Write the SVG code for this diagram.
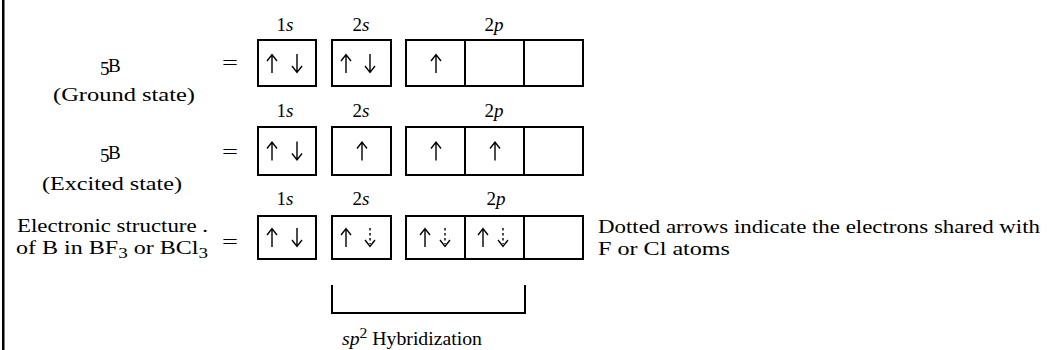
<svg xmlns="http://www.w3.org/2000/svg" xmlns:xlink="http://www.w3.org/1999/xlink" width="1047" height="350" viewBox="0 0 1047 350">
<style>
text{font-family:"Liberation Serif","Times New Roman",serif;fill:#000;font-size:19px}
.lbl{font-size:19px}
.it{font-style:italic}
.box{fill:none;stroke:#000;stroke-width:2}
.arr{fill:none;stroke:#000;stroke-width:1.4}
.dot{fill:none;stroke:#000;stroke-width:1.4;stroke-dasharray:2.5 2.5}
</style>
<defs>
<g id="up"><path class="arr" d="M0,19 V0.8 M-5,7 L0,0.6 L5,7"/></g>
<g id="dn"><path class="arr" d="M0,0 V18.2 M-5,12 L0,18.4 L5,12"/></g>
<g id="dd"><path class="dot" d="M0,0 V16"/><path class="arr" d="M-5,12 L0,18.4 L5,12"/></g>
</defs>
<rect x="2" y="0" width="2.5" height="350" fill="#000"/>

<g id="row1">
<text x="100" y="75" font-size="15">5</text><text x="108" y="72">B</text>
<text x="53" y="101" textLength="142" lengthAdjust="spacingAndGlyphs">(Ground state)</text>
<text x="222" y="69" textLength="16" lengthAdjust="spacingAndGlyphs">=</text>
<text class="lbl" x="285" y="31" text-anchor="middle">1<tspan class="it">s</tspan></text>
<text class="lbl" x="361" y="31" text-anchor="middle">2<tspan class="it">s</tspan></text>
<text class="lbl" x="494" y="31" text-anchor="middle">2<tspan class="it">p</tspan></text>
<rect class="box" x="258" y="40" width="58" height="46"/>
<rect class="box" x="332" y="40" width="59" height="46"/>
<rect class="box" x="406" y="40" width="177" height="46"/>
<path class="box" d="M465,40 V86 M524,40 V86"/>
<use xlink:href="#up" x="272" y="54"/><use xlink:href="#dn" x="297" y="54"/>
<use xlink:href="#up" x="346" y="54"/><use xlink:href="#dn" x="370" y="54"/>
<use xlink:href="#up" x="436" y="54"/>
</g>

<g id="row2">
<text x="100" y="162" font-size="15">5</text><text x="108" y="159">B</text>
<text x="42" y="190" textLength="140" lengthAdjust="spacingAndGlyphs">(Excited state)</text>
<text x="222" y="158" textLength="16" lengthAdjust="spacingAndGlyphs">=</text>
<text class="lbl" x="285" y="117" text-anchor="middle">1<tspan class="it">s</tspan></text>
<text class="lbl" x="361" y="117" text-anchor="middle">2<tspan class="it">s</tspan></text>
<text class="lbl" x="494" y="117" text-anchor="middle">2<tspan class="it">p</tspan></text>
<rect class="box" x="258" y="127" width="58" height="48"/>
<rect class="box" x="332" y="127" width="59" height="48"/>
<rect class="box" x="406" y="127" width="177" height="48"/>
<path class="box" d="M465,127 V175 M524,127 V175"/>
<use xlink:href="#up" x="272" y="141.5"/><use xlink:href="#dn" x="297" y="141.5"/>
<use xlink:href="#up" x="362" y="141.5"/>
<use xlink:href="#up" x="436" y="141.5"/>
<use xlink:href="#up" x="495" y="141.5"/>
</g>

<g id="row3">
<text x="17" y="232" textLength="191" lengthAdjust="spacingAndGlyphs">Electronic structure .</text>
<text x="16" y="254" textLength="192" lengthAdjust="spacingAndGlyphs">of B in BF<tspan font-size="15" dy="4">3</tspan><tspan dy="-4"> or BCl</tspan><tspan font-size="15" dy="4">3</tspan></text>
<text x="222" y="248" textLength="16" lengthAdjust="spacingAndGlyphs">=</text>
<text class="lbl" x="285" y="205" text-anchor="middle">1<tspan class="it">s</tspan></text>
<text class="lbl" x="361" y="205" text-anchor="middle">2<tspan class="it">s</tspan></text>
<text class="lbl" x="496" y="205" text-anchor="middle">2<tspan class="it">p</tspan></text>
<rect class="box" x="258" y="216" width="58" height="43"/>
<rect class="box" x="332" y="216" width="59" height="43"/>
<rect class="box" x="406" y="216" width="177" height="43"/>
<path class="box" d="M465,216 V259 M524,216 V259"/>
<use xlink:href="#up" x="272" y="228"/><use xlink:href="#dn" x="297" y="228"/>
<use xlink:href="#up" x="346" y="228"/><use xlink:href="#dd" x="370" y="228"/>
<use xlink:href="#up" x="425" y="228"/><use xlink:href="#dd" x="445" y="228"/>
<use xlink:href="#up" x="483" y="228"/><use xlink:href="#dd" x="503" y="228"/>
<text x="598" y="233" textLength="442" lengthAdjust="spacingAndGlyphs">Dotted arrows indicate the electrons shared with</text>
<text x="598" y="255" textLength="132" lengthAdjust="spacingAndGlyphs">F or Cl atoms</text>
</g>

<g id="connectors">
<path class="box" d="M332,285 V313 H525 V285"/>
</g>
<g id="hybrid">
<text x="342" y="345" textLength="140" lengthAdjust="spacingAndGlyphs"><tspan class="it">sp</tspan><tspan font-size="15" dy="-7">2</tspan><tspan dy="7"> Hybridization</tspan></text>
</g>
</svg>
